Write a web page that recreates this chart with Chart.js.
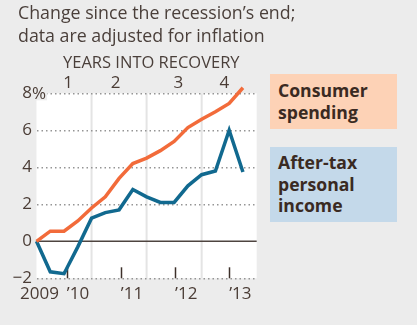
<!DOCTYPE html>
<html>
<head>
<meta charset="utf-8">
<title>Spending vs income</title>
<script src="https://cdn.jsdelivr.net/npm/chart.js@4/dist/chart.umd.min.js"></script>
<style>
  body { margin: 0; background: #ececec; font-family: 'Open Sans', sans-serif; color: #4a3f3a; }
  #wrap { position: relative; width: 417px; height: 325px; overflow: hidden; }
  #title { position: absolute; left: 18px; top: 1px; font-size: 17.8px; line-height: 23px; white-space: nowrap; }
  #years { position: absolute; left: 63px; top: 50px; font-size: 16.5px; white-space: nowrap; }
  .key { position: absolute; left: 270px; width: 127px; box-sizing: border-box; padding-left: 8px;
         font-weight: bold; font-size: 17.6px; line-height: 21.5px; color: #3a2a22; }
  #keySpend { top: 74px; height: 55px; padding-top: 6px; background: #fdd2b6; }
  #keyIncome { top: 147px; height: 75px; padding-top: 5px; background: #c4d9ea; }
  canvas { position: absolute; left: 0; top: 0; }
</style>
</head>
<body>
<div id="wrap">
  <canvas id="myChart" width="265" height="325"></canvas>
  <div id="title">Change since the recession’s end;<br>data are adjusted for inflation</div>
  <div id="years">YEARS INTO RECOVERY</div>
  <div class="key" id="keySpend">Consumer<br>spending</div>
  <div class="key" id="keyIncome">After-tax<br>personal<br>income</div>
</div>
<script>
// quarters since the end of the recession (mid-2009), % change
var quarters = [0, 1, 2, 3, 4, 5, 6, 7, 8, 9, 10, 11, 12, 13, 14, 15];
var spending = [0, 0.55, 0.55, 1.1, 1.8, 2.4, 3.4, 4.2, 4.5, 4.9, 5.4, 6.15, 6.6, 7.0, 7.45, 8.3];
var income = [0, -1.65, -1.75, -0.3, 1.25, 1.55, 1.7, 2.8, 2.4, 2.1, 2.1, 3.0, 3.6, 3.8, 6.0, 3.75];

// calendar year labels (left edge, in quarters) and recovery years
var yearLabels = ['2009', '’10', '’11', '’12', '’13'];
var yearStarts = [-1.2, 2.2, 6.13, 10.07, 14.0];
var recoveryLabels = ['1', '2', '3', '4'];
var recoveryLabelPos = [2.3, 5.75, 10.3, 13.65];
var recoveryYearEnds = [4, 8, 12];
var yTicks = [-2, 0, 2, 4, 6, 8];

var textColor = '#4a3c35';
var font = { family: 'Open Sans', size: 17 };

function pts(vals) {
    return quarters.map(function(q, i) { return { x: q, y: vals[i] }; });
}

var decor = {
    id: 'decor',
    beforeDraw: function(chart) {
        var ctx = chart.ctx, a = chart.chartArea, x = chart.scales.x;
        ctx.save();
        ctx.fillStyle = '#ffffff';
        ctx.fillRect(a.left, a.top, a.right - a.left, a.bottom - a.top);
        ctx.strokeStyle = '#e4e4e4';
        ctx.lineWidth = 2;
        recoveryYearEnds.forEach(function(v) {
            var px = x.getPixelForValue(v);
            ctx.beginPath();
            ctx.moveTo(px, a.top);
            ctx.lineTo(px, a.bottom);
            ctx.stroke();
        });
        ctx.restore();
    },
    beforeDatasetsDraw: function(chart) {
        var ctx = chart.ctx, a = chart.chartArea, x = chart.scales.x, y = chart.scales.y;
        ctx.save();
        ctx.strokeStyle = '#4e4440';
        ctx.lineWidth = 1.5;
        var y0 = y.getPixelForValue(0);
        ctx.beginPath();
        ctx.moveTo(a.left, y0);
        ctx.lineTo(a.right, y0);
        ctx.stroke();
        // Jan 1 tick marks
        ctx.strokeStyle = '#3d302a';
        yearStarts.forEach(function(v) {
            if (v <= 0) return;
            var px = Math.round(x.getPixelForValue(v)) + 0.5;
            ctx.beginPath();
            ctx.moveTo(px, a.bottom - 11);
            ctx.lineTo(px, a.bottom);
            ctx.stroke();
        });
        ctx.restore();
    },
    afterDraw: function(chart) {
        // percent sign after the top label
        var ctx = chart.ctx, y = chart.scales.y;
        var py = y.getPixelForValue(8);
        ctx.save();
        ctx.font = '17px "Open Sans"';
        ctx.textBaseline = 'middle';
        ctx.textAlign = 'left';
        var w = ctx.measureText('%').width;
        ctx.fillStyle = '#ececec';
        ctx.fillRect(y.right - 4.5, py - 2, w + 1, 9);
        ctx.fillStyle = textColor;
        ctx.fillText('%', y.right - 4.5, py + 1);
        ctx.restore();
    }
};

var ctx = document.getElementById('myChart').getContext('2d');
var chart = new Chart(ctx, {
    type: 'line',
    data: {
        datasets: [{
            label: 'Consumer spending',
            data: pts(spending),
            borderColor: '#f26b3a',
            borderWidth: 3.5,
            pointRadius: 0,
            tension: 0,
            clip: false
        }, {
            label: 'After-tax personal income',
            data: pts(income),
            borderColor: '#11698f',
            borderWidth: 3.5,
            pointRadius: 0,
            tension: 0,
            clip: false
        }]
    },
    options: {
        responsive: false,
        animation: false,
        events: [],
        layout: { padding: { left: 0, right: 8.3, top: 0, bottom: 0 } },
        plugins: { legend: { display: false }, tooltip: { enabled: false } },
        scales: {
            x: {
                type: 'linear',
                position: 'bottom',
                min: 0,
                max: 16,
                afterBuildTicks: function(s) {
                    s.ticks = yearStarts.map(function(v) { return { value: v }; });
                },
                afterFit: function(s) { s.height = 46.7; s.paddingLeft = 0; s.paddingRight = 0; },
                ticks: {
                    align: 'start',
                    padding: 6,
                    color: textColor,
                    font: font,
                    maxRotation: 0,
                    autoSkip: false,
                    callback: function(v, i) { return yearLabels[i]; }
                },
                grid: { display: false, drawTicks: false },
                border: { display: false }
            },
            x2: {
                type: 'linear',
                position: 'top',
                min: 0,
                max: 16,
                afterBuildTicks: function(s) {
                    s.ticks = recoveryLabelPos.map(function(v) { return { value: v }; });
                },
                afterFit: function(s) { s.height = 93.3; s.paddingLeft = 0; s.paddingRight = 0; },
                ticks: {
                    padding: 0,
                    color: textColor,
                    font: font,
                    maxRotation: 0,
                    autoSkip: false,
                    callback: function(v, i) { return recoveryLabels[i]; }
                },
                grid: { display: false, drawTicks: false },
                border: { display: false }
            },
            y: {
                min: -2,
                max: 8,
                afterBuildTicks: function(s) {
                    s.ticks = yTicks.map(function(v) { return { value: v }; });
                },
                afterFit: function(s) { s.width = 36.5; s.paddingTop = 0; s.paddingBottom = 0; },
                ticks: {
                    padding: 4.5,
                    color: textColor,
                    font: font,
                    callback: function(v) { return v < 0 ? '−' + Math.abs(v) : String(v); }
                },
                grid: {
                    drawTicks: false,
                    lineWidth: 1.5,
                    color: function(c) { return c.tick && c.tick.value === 0 ? 'rgba(0,0,0,0)' : '#959595'; }
                },
                border: { display: false, dash: [1.5, 3] }
            }
        }
    },
    plugins: [decor]
});
</script>
</body>
</html>
